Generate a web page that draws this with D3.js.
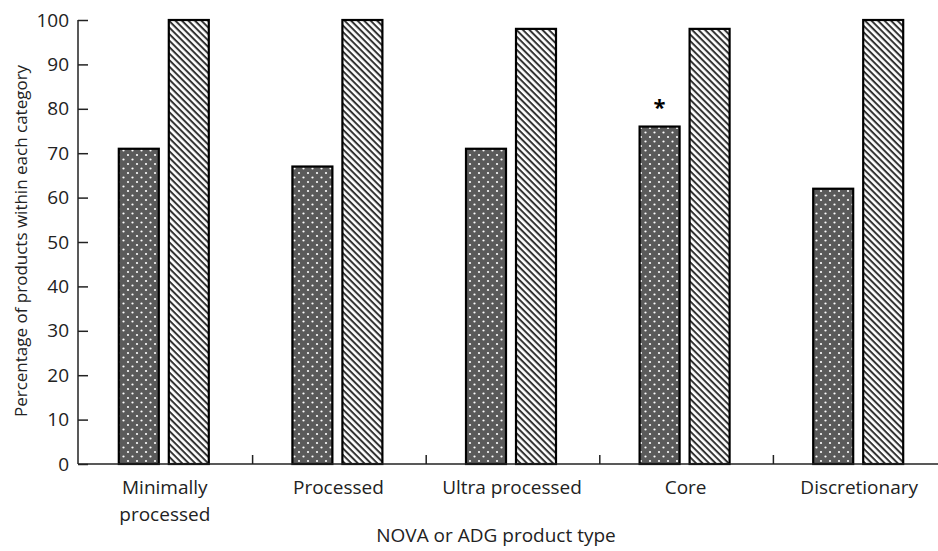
<!DOCTYPE html>
<html><head><meta charset="utf-8">
<script src="https://cdn.jsdelivr.net/npm/d3@7"></script>
<style>body{margin:0;background:#fff;} svg{display:block;}</style>
</head><body>
<svg id="c" width="938" height="551"></svg>
<script>
const categories = [["Minimally","processed"],["Processed"],["Ultra processed"],["Core"],["Discretionary"]];
const seriesDotted = [71, 67, 71, 76, 62];
const seriesHatched = [100, 100, 98, 98, 100];
const yTicks = [0,10,20,30,40,50,60,70,80,90,100];
const significant = [false, false, false, true, false];
const yTitle = "Percentage of products within each category";
const xTitle = "NOVA or ADG product type";

const svg = d3.select("#c");
const font = "'Open Sans', sans-serif";
const defs = svg.append("defs");
const pd = defs.append("pattern").attr("id","dots").attr("patternUnits","userSpaceOnUse")
  .attr("width",9).attr("height",9);
pd.append("rect").attr("width",9).attr("height",9).attr("fill","#5a5a5a");
pd.append("circle").attr("cx",2).attr("cy",2).attr("r",1.1).attr("fill","#fff");
pd.append("circle").attr("cx",6.5).attr("cy",6.5).attr("r",1.1).attr("fill","#fff");
const ph = defs.append("pattern").attr("id","hatch").attr("patternUnits","userSpaceOnUse")
  .attr("width",4.6).attr("height",4.6).attr("patternTransform","rotate(45)");
ph.append("rect").attr("width",4.6).attr("height",4.6).attr("fill","#fff");
ph.append("rect").attr("x",0).attr("y",0).attr("width",4.6).attr("height",2).attr("fill","#333");

const x = d3.scaleBand().domain(d3.range(categories.length)).range([79, 947]).paddingInner(0).paddingOuter(0);
const y = d3.scaleLinear().domain([0,100]).range([464, 20]);
const barW = 40, gap = 10;

const g = svg.append("g");
g.selectAll(".bd").data(seriesDotted).join("rect")
  .attr("x",(d,i)=>x(i)+x.bandwidth()/2 - gap/2 - barW - 2)
  .attr("y",d=>y(d)).attr("width",barW).attr("height",d=>y(0)-y(d))
  .attr("fill","url(#dots)").attr("stroke","#000").attr("stroke-width",2.2);
g.selectAll(".bh").data(seriesHatched).join("rect")
  .attr("x",(d,i)=>x(i)+x.bandwidth()/2 + gap/2 - 2)
  .attr("y",d=>y(d)).attr("width",barW).attr("height",d=>y(0)-y(d))
  .attr("fill","url(#hatch)").attr("stroke","#000").attr("stroke-width",2.2);
g.selectAll(".ast").data(seriesDotted.map((d,i)=>({d,i})).filter(o=>significant[o.i])).join("text")
  .attr("x",o=>x(o.i)+x.bandwidth()/2 - gap/2 - barW/2 - 2)
  .attr("y",o=>y(o.d)-12).attr("text-anchor","middle")
  .attr("font-family",font).attr("font-size",22).attr("font-weight","bold").text("*");

// y axis (ticks pointing inward)
const ya = svg.append("g").attr("transform","translate(78,0)")
  .call(d3.axisRight(y).tickValues(yTicks).tickSize(10).tickPadding(8));
ya.select(".domain").attr("stroke","#222").attr("stroke-width",1.5).attr("d","M0,"+y(100)+"V"+y(0));
ya.selectAll(".tick line").attr("stroke","#222").attr("stroke-width",1.5);
ya.selectAll("text").attr("x",-9).attr("text-anchor","end")
  .attr("font-family",font).attr("font-size",19).attr("fill","#222");

// x axis
const xa = svg.append("g").attr("transform","translate(0,464)");
xa.append("line").attr("x1",78).attr("x2",938).attr("stroke","#222").attr("stroke-width",1.5);
xa.selectAll(".xt").data(d3.range(1,categories.length)).join("line")
  .attr("x1",i=>x(i)).attr("x2",i=>x(i)).attr("y1",0).attr("y2",-9)
  .attr("stroke","#222").attr("stroke-width",1.5);
const xl = xa.selectAll(".xl").data(categories).join("text")
  .attr("text-anchor","middle").attr("font-family",font).attr("font-size",19).attr("fill","#222")
  .attr("transform",(d,i)=>`translate(${x(i)+x.bandwidth()/2-1},30)`);
xl.selectAll("tspan").data(d=>d).join("tspan").attr("x",0).attr("dy",(d,j)=>j?"1.4em":0).text(d=>d);

svg.append("text").attr("x",496).attr("y",542).attr("text-anchor","middle")
  .attr("font-family",font).attr("font-size",19).attr("fill","#222").text(xTitle);
svg.append("text").attr("transform","translate(27,241) rotate(-90)").attr("text-anchor","middle")
  .attr("font-family",font).attr("font-size",17).attr("fill","#222").text(yTitle);
</script>
</body></html>
